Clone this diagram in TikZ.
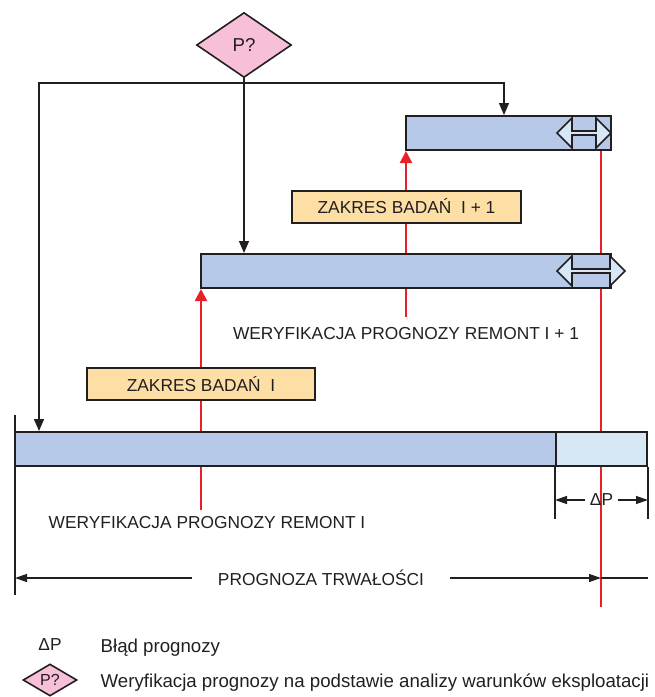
\documentclass[tikz,border=0pt]{standalone}
\usepackage{fontspec}
\setmainfont{Liberation Sans}
\usepackage{tikz}
\usetikzlibrary{shapes.geometric, shapes.arrows, positioning, arrows.meta, backgrounds}

\definecolor{barblue}{RGB}{182,201,232}
\definecolor{lightblue}{RGB}{214,231,246}
\definecolor{zakres}{RGB}{253,222,165}
\definecolor{querypink}{RGB}{247,192,216}
\definecolor{redline}{RGB}{232,32,42}
\definecolor{ink}{RGB}{35,31,32}

\newdimen\px \px=0.75pt

\begin{document}
\begin{tikzpicture}[x=0.75pt, y=-0.75pt,
        every node/.style={font=\fontsize{13}{15}\selectfont, text=ink},
        bar/.style={rectangle, draw=ink, line width=1.5pt, fill=barblue, minimum height=34\px, inner sep=0pt},
        zbox/.style={rectangle, draw=ink, line width=1.5pt, fill=zakres, minimum height=32\px, inner sep=0pt},
        query/.style={diamond, draw=ink, line width=1.2pt, fill=querypink, inner sep=0pt},
        dbl/.style={double arrow, draw=ink, line width=1.3pt, fill=lightblue, inner sep=0pt, minimum width=30\px, double arrow head extend=6\px},
        arrow/.style={-{Triangle[length=9pt,width=7.5pt]}, draw=ink, line width=1pt},
        redarrow/.style={-{Triangle[length=9pt,width=9pt]}, draw=redline, line width=1.9pt},
        dim/.style={-{Triangle[length=9pt,width=6pt]}, draw=ink, line width=1pt},
        tick/.style={draw=ink, line width=0.8pt},
        legend/.style={anchor=west, font=\fontsize{14}{16}\selectfont}
    ]
    \useasboundingbox (0,0) rectangle (655,697);
%
    % Bars
    \node[bar, minimum width=205\px] (bar3) at (508.5,133) {};
    \node[bar, minimum width=410\px] (bar2) at (406,271) {};
    \node[bar, minimum width=541\px] (bar1) at (285.5,449) {};
    \node[bar, fill=lightblue, minimum width=91\px] (err1) at (601.5,449) {};
    \node[dbl, minimum height=54\px] (dbl3) at (584,133) {};
    \node[dbl, minimum height=68\px] (dbl2) at (591,271) {};
%
    % Test ranges
    \node[zbox, minimum width=228\px] (zakres1) at (201,384) {ZAKRES BADAŃ\ \ I};
    \node[zbox, minimum width=229\px] (zakres2) at (406.5,206.5) {ZAKRES BADAŃ\ \ I + 1};
%
    % Verification of operating conditions
    \node[query, minimum width=95\px, minimum height=65\px, font=\fontsize{14}{16}\selectfont] (query) at (244,45) {P?};
    \coordinate (split) at (244,83);
    \draw[arrow] (query.south) -- (query.south |- bar2.north);
    \draw[arrow] (split) -| ([xshift=25\px]bar1.north west);
    \draw[arrow] (split) -| ([xshift=99\px]bar3.north west);
%
    % Verification of the forecast
    \coordinate (verify1) at (201,510);
    \coordinate (verify2) at (406,317);
    \coordinate (redend) at (601,607);
    \begin{pgfonlayer}{background}
        \draw[redarrow] (verify1) -- (verify1 |- bar2.south);
        \draw[redarrow] (verify2) -- (verify2 |- bar3.south);
        \draw[redline, line width=0.8pt] (redend |- bar3.south) -- (redend);
    \end{pgfonlayer}
    \node (label2) at (406,334) {WERYFIKACJA PROGNOZY REMONT I + 1};
    \node (label1) at (207,523) {WERYFIKACJA PROGNOZY REMONT I};
%
    % Forecast error
    \draw[tick] (err1.south west) -- ++(0,52);
    \draw[tick] (err1.south east) -- ++(0,52);
    \node (dP) at (601.5,500) {ΔP};
    \draw[dim] (dP.west) -- (dP.west -| err1.south west);
    \draw[dim] (dP.east) -- (dP.east -| err1.south east);
%
    % Life forecast
    \coordinate (lifetop) at (15,415);
    \coordinate (lifebot) at (15,595);
    \draw[tick] (lifetop) -- (lifebot);
    \node[inner xsep=26\px] (life) at (321,578) {PROGNOZA TRWAŁOŚCI};
    \draw[dim] (life.west) -- (life.west -| lifetop);
    \draw[dim] (life.east) -- (life.east -| redend);
    \draw[ink, line width=1pt] (life.east -| redend) -- (life.east -| err1.east);
%
    % Legend
    \node (dPkey) at (50,645) {ΔP};
    \node[legend] (dPtext) at (96,648) {Błąd prognozy};
    \node[query, minimum width=54\px, minimum height=32\px, font=\fontsize{12}{14}\selectfont] (querykey) at (50,680) {P?};
    \node[legend] (querytext) at (96,683) {Weryfikacja prognozy na podstawie analizy warunków eksploatacji};
%
\end{tikzpicture}
\end{document}
